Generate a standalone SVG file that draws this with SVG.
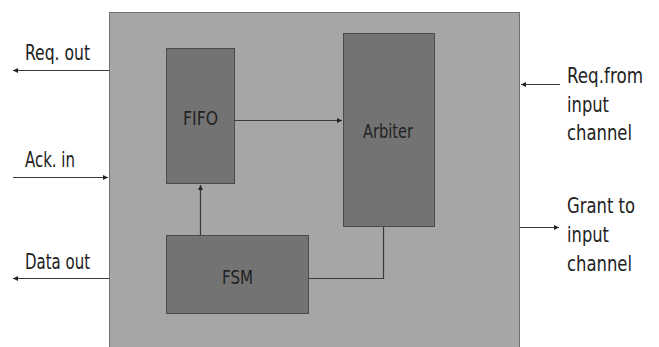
<svg xmlns="http://www.w3.org/2000/svg" width="659" height="347" viewBox="0 0 659 347">
<style>
.blk{fill:#737373;stroke:#4a4a4a;stroke-width:1}
.ln{fill:none;stroke:#3a3a3a;stroke-width:1.2}
text{font-family:"DejaVu Sans Condensed","DejaVu Sans",sans-serif;fill:#222}
.m{font-size:20px}
.l{font-size:20.5px}
</style>
<defs>
<marker id="ah" markerWidth="6" markerHeight="6" refX="5" refY="3" orient="auto" markerUnits="userSpaceOnUse">
<path d="M0,0.5 L5,3 L0,5.5 Z" fill="#222"/>
</marker>
</defs>
<rect width="659" height="347" fill="#fff"/>
<g id="router">
<rect x="109.5" y="12.5" width="410" height="345" fill="#a6a6a6" stroke="#707070" stroke-width="1"/>
</g>
<g id="fifo">
<rect class="blk" x="166.5" y="48.5" width="68" height="135"/>
<text class="m" x="183" y="125" textLength="35" lengthAdjust="spacingAndGlyphs">FIFO</text>
</g>
<g id="arbiter">
<rect class="blk" x="343.5" y="33.5" width="91" height="193"/>
<text class="m" x="363" y="138" textLength="50" lengthAdjust="spacingAndGlyphs">Arbiter</text>
</g>
<g id="fsm">
<rect class="blk" x="166.5" y="235.5" width="142" height="78"/>
<text class="m" x="222" y="284" textLength="31" lengthAdjust="spacingAndGlyphs">FSM</text>
</g>
<g id="connectors">
<path class="ln" d="M234.5,120.5 H342" marker-end="url(#ah)"/>
<path class="ln" d="M200.5,235 V185" marker-end="url(#ah)"/>
<path class="ln" d="M383.5,227 V278.5 H309"/>
<path class="ln" d="M109,70.5 H13" marker-end="url(#ah)"/>
<path class="ln" d="M13,177.5 H108" marker-end="url(#ah)"/>
<path class="ln" d="M109,278.5 H13" marker-end="url(#ah)"/>
<path class="ln" d="M560,84.5 H521" marker-end="url(#ah)"/>
<path class="ln" d="M520,227.5 H559" marker-end="url(#ah)"/>
</g>
<g id="labels">
<text class="l" x="25" y="60" textLength="65" lengthAdjust="spacingAndGlyphs">Req. out</text>
<text class="l" x="25" y="167" textLength="50" lengthAdjust="spacingAndGlyphs">Ack. in</text>
<text class="l" x="25" y="269" textLength="65" lengthAdjust="spacingAndGlyphs">Data out</text>
<text class="l" x="567" y="83" textLength="76" lengthAdjust="spacingAndGlyphs">Req.from</text>
<text class="l" x="567" y="112" textLength="42" lengthAdjust="spacingAndGlyphs">input</text>
<text class="l" x="567" y="140" textLength="65" lengthAdjust="spacingAndGlyphs">channel</text>
<text class="l" x="567" y="213" textLength="68" lengthAdjust="spacingAndGlyphs">Grant to</text>
<text class="l" x="567" y="242" textLength="42" lengthAdjust="spacingAndGlyphs">input</text>
<text class="l" x="567" y="271" textLength="65" lengthAdjust="spacingAndGlyphs">channel</text>
</g>
</svg>
